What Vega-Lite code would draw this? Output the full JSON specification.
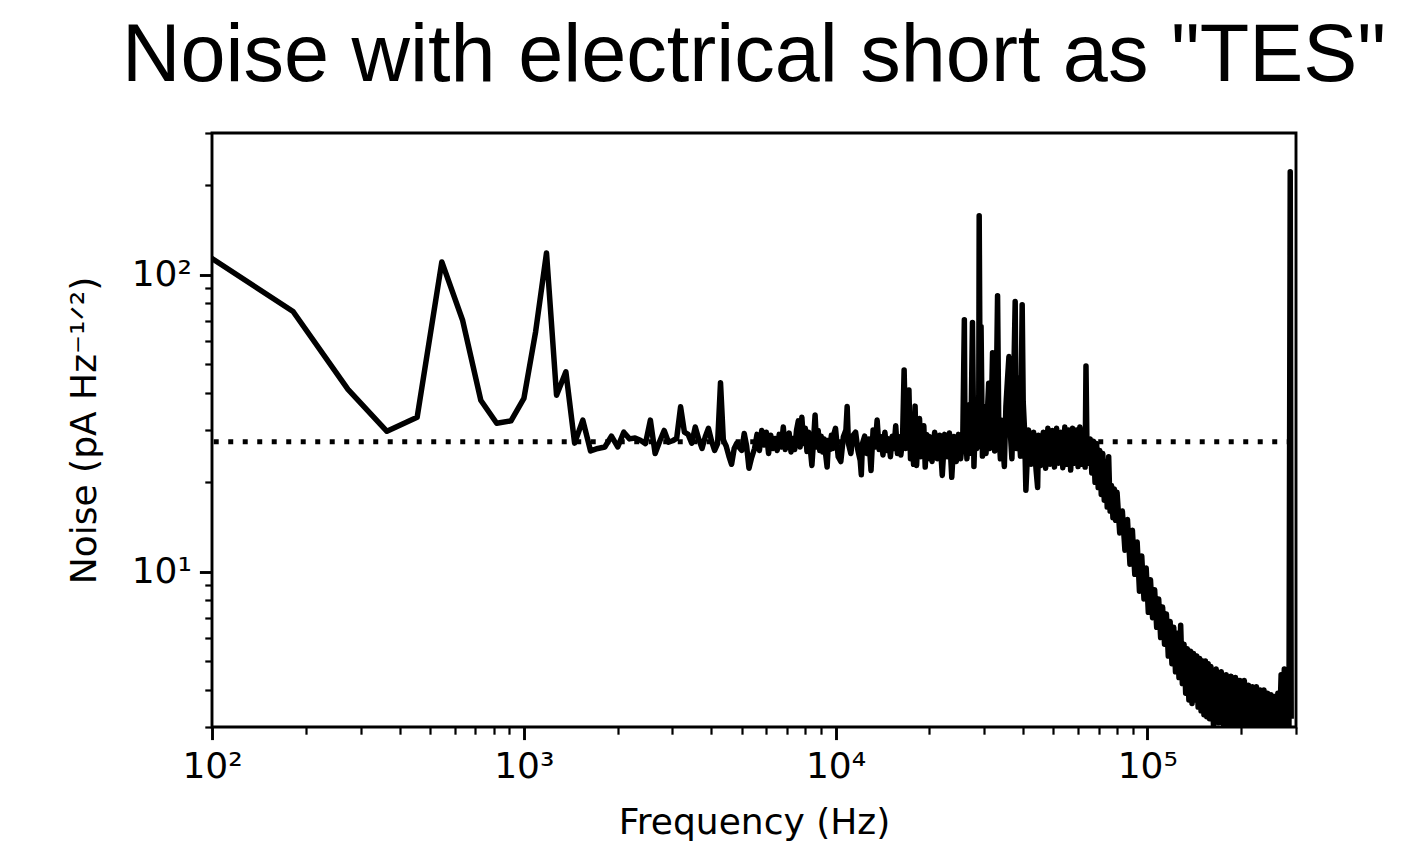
{
  "$schema": "https://vega.github.io/schema/vega-lite/v6.json",
  "width": 1084,
  "height": 594,
  "autosize": "none",
  "padding": {"left": 212, "top": 133, "right": 123, "bottom": 118},
  "background": "white",
  "config": {
    "view": {"stroke": "black", "strokeWidth": 2.9},
    "axis": {
      "domain": false, "grid": false,
      "labelFont": "DejaVu Sans", "labelFontSize": 36, "labelColor": "black",
      "titleFont": "DejaVu Sans", "titleFontSize": 36, "titleFontWeight": "normal", "titleColor": "black",
      "tickColor": "black", "labelFlush": false, "labelOverlap": false
    }
  },
  "title": {
    "text": "Noise with electrical short as \"TES\"",
    "font": "Liberation Sans", "fontSize": 81, "fontWeight": "normal", "color": "black",
    "anchor": "middle", "baseline": "alphabetic", "offset": -30
  },
  "layer": [
    {
      "data": {"values": [
        {"f":91,"n":121},{"f":182,"n":75.2},{"f":273,"n":41.1},{"f":364,"n":29.7},{"f":455,"n":33.1},
        {"f":546,"n":110.4},{"f":637,"n":70.1},{"f":728,"n":37.8},{"f":819,"n":31.6},{"f":910,"n":32.2},
        {"f":1001,"n":38.3},{"f":1092,"n":64.4},{"f":1183,"n":118.4},{"f":1274,"n":39.3},{"f":1365,"n":47.1},
        {"f":1456,"n":27.1},{"f":1547,"n":32.4},{"f":1638,"n":25.5},{"f":1729,"n":26.0},{"f":1820,"n":26.3},
        {"f":1911,"n":28.6},{"f":2002,"n":26.3},{"f":2093,"n":29.5},{"f":2184,"n":28.0},{"f":2275,"n":28.2},
        {"f":2366,"n":27.7},{"f":2457,"n":27.0},{"f":2548,"n":32.4},{"f":2639,"n":25.0},{"f":2730,"n":27.5},
        {"f":2821,"n":29.9},{"f":2912,"n":27.3},{"f":3003,"n":27.6},{"f":3094,"n":28.1},{"f":3185,"n":35.9},
        {"f":3276,"n":29.5},{"f":3367,"n":29.0},{"f":3458,"n":27.1},{"f":3549,"n":30.7},{"f":3640,"n":28.0},
        {"f":3731,"n":26.0},{"f":3822,"n":28.5},{"f":3913,"n":30.4},{"f":4004,"n":27.5},{"f":4095,"n":25.6},
        {"f":4186,"n":27.0},{"f":4277,"n":43.3},{"f":4368,"n":27.7},{"f":4459,"n":26.5},{"f":4550,"n":24.5},
        {"f":4641,"n":23.0},{"f":4732,"n":26.0},{"f":4823,"n":27.1},{"f":4914,"n":26.2},{"f":5005,"n":25.6},
        {"f":5096,"n":29.2},{"f":5187,"n":26.5},{"f":5278,"n":22.3},{"f":5369,"n":24.0},
        {"f":5500,"n":26.0},{"f":5600,"n":29.0},{"f":5700,"n":25.6},{"f":5800,"n":29.9},{"f":5900,"n":26.7},
        {"f":6000,"n":29.5},{"f":6100,"n":25.0},{"f":6200,"n":28.8},{"f":6300,"n":26.0},{"f":6400,"n":28.1},
        {"f":6500,"n":25.6},{"f":6600,"n":29.0},{"f":6700,"n":26.3},{"f":6800,"n":30.7},{"f":6900,"n":25.8},
        {"f":7000,"n":28.6},{"f":7100,"n":29.3},{"f":7200,"n":25.3},{"f":7300,"n":28.1},{"f":7400,"n":25.8},
        {"f":7500,"n":30.0},{"f":7600,"n":32.2},{"f":7700,"n":26.3},{"f":7800,"n":33.1},{"f":7900,"n":27.0},
        {"f":8000,"n":30.4},{"f":8100,"n":25.4},{"f":8200,"n":29.5},{"f":8300,"n":26.0},{"f":8400,"n":22.8},
        {"f":8500,"n":27.5},{"f":8600,"n":33.7},{"f":8700,"n":26.3},{"f":8800,"n":29.9},{"f":8900,"n":25.6},
        {"f":9000,"n":28.6},{"f":9100,"n":25.3},{"f":9200,"n":28.0},{"f":9300,"n":24.8},{"f":9400,"n":22.5},
        {"f":9500,"n":27.7},{"f":9600,"n":25.8},{"f":9700,"n":28.8},{"f":9800,"n":26.0},{"f":9900,"n":29.3},
        {"f":10000,"n":30.4},{"f":10200,"n":24.4},{"f":10400,"n":23.5},{"f":10600,"n":28.5},{"f":10800,"n":30.0},
        {"f":10900,"n":36.0},{"f":11000,"n":27.0},{"f":11200,"n":25.0},{"f":11400,"n":28.8},{"f":11600,"n":29.5},
        {"f":11800,"n":25.6},{"f":12000,"n":23.7},{"f":12100,"n":21.2},{"f":12200,"n":27.0},{"f":12400,"n":28.6},
        {"f":12600,"n":25.0},{"f":12800,"n":28.0},{"f":13000,"n":21.9},{"f":13200,"n":30.0},{"f":13400,"n":26.3},
        {"f":13600,"n":32.4},{"f":13800,"n":25.8},{"f":14000,"n":28.5},{"f":14200,"n":24.7},{"f":14400,"n":29.5},
        {"f":14600,"n":25.6},{"f":14800,"n":28.0},{"f":15000,"n":24.4},{"f":15200,"n":28.6},{"f":15400,"n":26.0},
        {"f":15600,"n":31.0},{"f":15800,"n":25.0},{"f":16000,"n":28.5},{"f":16200,"n":24.7},{"f":16400,"n":27.5},
        {"f":16600,"n":47.8},{"f":16800,"n":26.0},{"f":17000,"n":28.5},{"f":17200,"n":40.9},{"f":17400,"n":24.0},
        {"f":17600,"n":29.0},{"f":17800,"n":23.0},{"f":18000,"n":36.1},{"f":18200,"n":22.8},{"f":18400,"n":29.0},
        {"f":18600,"n":32.8},{"f":18800,"n":24.4},{"f":19000,"n":28.0},{"f":19200,"n":31.0},{"f":19400,"n":22.5},
        {"f":19600,"n":29.0},{"f":19800,"n":24.0},{"f":20000,"n":28.5},
        {"f":20400,"n":23.5},{"f":20800,"n":29.5},{"f":21200,"n":24.0},{"f":21600,"n":28.8},{"f":22000,"n":21.1},
        {"f":22400,"n":29.0},{"f":22800,"n":24.4},{"f":23200,"n":29.3},{"f":23600,"n":20.8},{"f":24000,"n":28.5},
        {"f":24400,"n":23.5},{"f":24800,"n":29.0},{"f":25200,"n":24.0},{"f":25600,"n":28.0},{"f":25900,"n":70.5},
        {"f":26000,"n":33.0},{"f":26400,"n":24.0},{"f":26700,"n":36.4},{"f":26900,"n":25.0},{"f":27200,"n":30.0},
        {"f":27500,"n":69.0},{"f":27800,"n":22.6},{"f":28000,"n":29.0},{"f":28400,"n":26.0},{"f":28800,"n":31.0},
        {"f":28900,"n":158},{"f":29100,"n":40.0},{"f":29300,"n":66.9},{"f":29600,"n":24.5},{"f":30000,"n":36.0},
        {"f":30400,"n":25.0},{"f":30800,"n":37.0},{"f":31000,"n":43.1},{"f":31200,"n":26.0},{"f":31600,"n":34.0},
        {"f":31900,"n":54.6},{"f":32400,"n":25.5},{"f":32800,"n":40.0},{"f":33100,"n":84.9},{"f":33400,"n":30.0},
        {"f":33800,"n":24.0},{"f":34000,"n":32.4},{"f":34400,"n":27.0},{"f":34800,"n":22.6},{"f":35200,"n":36.0},
        {"f":35600,"n":44.0},{"f":36000,"n":53.0},{"f":36400,"n":29.0},{"f":36800,"n":24.0},{"f":37200,"n":38.0},
        {"f":37700,"n":81.2},{"f":38000,"n":26.0},{"f":38400,"n":45.0},{"f":38800,"n":30.0},{"f":39200,"n":24.5},
        {"f":39700,"n":79.2},{"f":40000,"n":37.3},{"f":40400,"n":30.0},{"f":40800,"n":18.8},{"f":41600,"n":30.0},
        {"f":42400,"n":23.0},{"f":43200,"n":29.5},{"f":44000,"n":22.0},{"f":44500,"n":19.2},{"f":44800,"n":28.8},
        {"f":45600,"n":22.8},{"f":46400,"n":29.5},{"f":47200,"n":22.3},{"f":48000,"n":30.4},{"f":48800,"n":23.0},
        {"f":49600,"n":29.9},{"f":50400,"n":22.5},{"f":51200,"n":30.4},{"f":52000,"n":23.2},{"f":52800,"n":29.5},
        {"f":53600,"n":22.4},{"f":54400,"n":30.7},{"f":55200,"n":23.0},{"f":56000,"n":30.0},{"f":56800,"n":22.0},
        {"f":57600,"n":30.4},{"f":58400,"n":23.2},{"f":59200,"n":30.0},{"f":60000,"n":22.6},{"f":60800,"n":30.7},
        {"f":61600,"n":23.0},{"f":62400,"n":29.5},{"f":63200,"n":22.5},{"f":63600,"n":49.3},{"f":64000,"n":28.5},
        {"f":64800,"n":23.2},{"f":65600,"n":28.0},{"f":66400,"n":21.5},{"f":67200,"n":27.5},{"f":68000,"n":20.0},
        {"f":68800,"n":27.0},{"f":69600,"n":19.2},{"f":70400,"n":25.6},{"f":71200,"n":18.2},{"f":72000,"n":25.0},
        {"f":72800,"n":17.4},{"f":73600,"n":23.5},{"f":74400,"n":16.5},{"f":75200,"n":24.4},{"f":76000,"n":16.0},
        {"f":76800,"n":19.5},{"f":77600,"n":15.2},{"f":78400,"n":19.0},{"f":79200,"n":14.9},{"f":80000,"n":18.5},
        {"f":81600,"n":13.5},{"f":83200,"n":16.0},{"f":84800,"n":11.8},{"f":86400,"n":15.0},{"f":88000,"n":10.6},
        {"f":89600,"n":13.8},{"f":91200,"n":9.8},{"f":92800,"n":12.6},{"f":94400,"n":8.6},{"f":96000,"n":11.3},
        {"f":97600,"n":8.1},{"f":99200,"n":10.3},{"f":100800,"n":7.3},{"f":102400,"n":9.4},{"f":104000,"n":7.0},
        {"f":105600,"n":8.7},{"f":107200,"n":6.5},{"f":108800,"n":8.1},{"f":110400,"n":6.0},{"f":112000,"n":7.6},
        {"f":113600,"n":5.7},{"f":115200,"n":7.2},{"f":116800,"n":5.2},{"f":118400,"n":6.8},{"f":120000,"n":4.9},
        {"f":121600,"n":6.5},{"f":123200,"n":4.6},{"f":124800,"n":6.2},{"f":126400,"n":4.4},{"f":128000,"n":6.6},
        {"f":129600,"n":4.2},{"f":131200,"n":5.7},{"f":132800,"n":3.9},{"f":134400,"n":5.5},{"f":136000,"n":3.7},
        {"f":137600,"n":5.4},{"f":139200,"n":3.6},{"f":140800,"n":5.3},{"f":142400,"n":3.7},{"f":144000,"n":5.2},
        {"f":145600,"n":3.5},{"f":147200,"n":5.1},{"f":148800,"n":3.4},{"f":150400,"n":5.0},{"f":152000,"n":3.3},
        {"f":153600,"n":5.0},{"f":155200,"n":3.25},{"f":156800,"n":4.9},{"f":158400,"n":3.2},{"f":160000,"n":4.8},
        {"f":163200,"n":3.0},{"f":166400,"n":4.7},{"f":169600,"n":3.1},{"f":172800,"n":4.6},{"f":176000,"n":2.95},
        {"f":179200,"n":4.5},{"f":182400,"n":3.05},{"f":185600,"n":4.45},{"f":188800,"n":2.9},{"f":192000,"n":4.4},
        {"f":195200,"n":3.0},{"f":198400,"n":4.3},{"f":201600,"n":2.9},{"f":204800,"n":4.3},{"f":208000,"n":3.0},
        {"f":211200,"n":4.15},{"f":214400,"n":2.9},{"f":217600,"n":4.1},{"f":220800,"n":2.95},{"f":224000,"n":4.1},
        {"f":227200,"n":2.9},{"f":230400,"n":4.0},{"f":233600,"n":2.95},{"f":236800,"n":4.0},{"f":240000,"n":2.9},
        {"f":243200,"n":3.9},{"f":246400,"n":2.9},{"f":249600,"n":3.85},{"f":252800,"n":2.9},{"f":256000,"n":3.8},
        {"f":259200,"n":2.9},{"f":262400,"n":3.9},{"f":265600,"n":2.9},{"f":268800,"n":4.5},{"f":272000,"n":3.0},
        {"f":275200,"n":4.7},{"f":278400,"n":2.9},{"f":281600,"n":4.5},{"f":284800,"n":3.0},{"f":287500,"n":222},
        {"f":289500,"n":3.2}
      ]},
      "mark": {"type": "line", "color": "black", "strokeWidth": 5.5, "strokeJoin": "round", "strokeCap": "butt", "clip": true},
      "encoding": {
        "x": {"field": "f", "type": "quantitative",
          "scale": {"type": "log", "domain": [100, 300000], "nice": false},
          "axis": {"orient": "bottom", "values": [100, 1000, 10000, 100000],
            "labelExpr": "'10' + (datum.value >= 100000 ? '⁵' : datum.value >= 10000 ? '⁴' : datum.value >= 1000 ? '³' : '²')",
            "tickSize": 12.6, "tickWidth": 2.9, "labelPadding": 10, "title": "Frequency (Hz)", "titlePadding": 21}},
        "y": {"field": "n", "type": "quantitative",
          "scale": {"type": "log", "domain": [3, 300], "nice": false},
          "axis": {"orient": "left", "values": [10, 100],
            "labelExpr": "datum.value >= 100 ? '10²' : '10¹'",
            "tickSize": 12.6, "tickWidth": 2.9, "labelPadding": 8, "title": "Noise (pA Hz⁻¹ᐟ²)", "titlePadding": 28}}
      }
    },
    {
      "data": {"values": [{"f": 91, "n": 27.4}, {"f": 288000, "n": 27.4}]},
      "mark": {"type": "line", "color": "black", "strokeWidth": 5, "strokeDash": [5, 9.5], "strokeCap": "butt", "clip": true},
      "encoding": {
        "x": {"field": "f", "type": "quantitative",
          "axis": {"orient": "bottom", "values": [200, 300, 400, 500, 600, 700, 800, 900, 2000, 3000, 4000, 5000, 6000, 7000, 8000, 9000, 20000, 30000, 40000, 50000, 60000, 70000, 80000, 90000, 200000, 300000],
            "labels": false, "tickSize": 7.2, "tickWidth": 2.2, "title": null}},
        "y": {"field": "n", "type": "quantitative",
          "axis": {"orient": "left", "values": [3, 4, 5, 6, 7, 8, 9, 20, 30, 40, 50, 60, 70, 80, 90, 200, 300],
            "labels": false, "tickSize": 7.2, "tickWidth": 2.2, "title": null}}
      }
    }
  ],
  "resolve": {"axis": {"x": "independent", "y": "independent"}}
}
